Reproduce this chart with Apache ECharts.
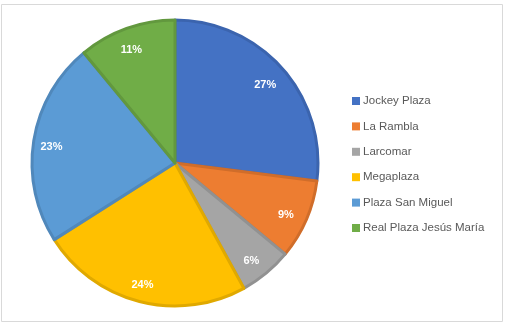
<!DOCTYPE html>
<html>
<head>
<meta charset="utf-8">
<script src="https://cdn.jsdelivr.net/npm/echarts@6/dist/echarts.min.js"></script>
<style>html,body{margin:0;padding:0;background:#fff;}#c{width:507px;height:327px;}</style>
</head>
<body>
<div id="c"></div>
<script>
const categories = ['Jockey Plaza', 'La Rambla', 'Larcomar', 'Megaplaza', 'Plaza San Miguel', 'Real Plaza Jesús María'];
const values = [27, 9, 6, 24, 23, 11];
const colors = ['#4472C4', '#ED7D31', '#A5A5A5', '#FFC000', '#5B9BD5', '#70AD47'];
const borders = ['#3B64AE', '#D06D2A', '#919191', '#E0A900', '#5088BB', '#62983E'];

const chart = echarts.init(document.getElementById('c'));
const mainData = categories.map((n, i) => ({
  name: n, value: values[i],
  itemStyle: { color: colors[i], borderColor: borders[i], borderWidth: 3 }
}));
const labelData = categories.map((n, i) => ({ name: n, value: values[i] }));
chart.setOption({
  animation: false,
  graphic: [{
    type: 'rect', shape: { x: 1.5, y: 4.5, width: 501, height: 317 },
    style: { fill: 'none', stroke: '#D9D9D9', lineWidth: 1 }, silent: true
  }],
  legend: {
    orient: 'vertical', left: 347, top: 90,
    itemWidth: 8, itemHeight: 8, itemGap: 13.4,
    icon: 'rect',
    data: categories.map((n, i) => ({ name: n, itemStyle: { color: colors[i], borderWidth: 0 } })),
    textStyle: { color: '#595959', fontSize: 11.5, fontFamily: 'Liberation Sans', padding: [0, 0, 0, -2] }
  },
  series: [{
    type: 'pie', center: [175, 163], radius: [0, 143],
    startAngle: 90, clockwise: true, silent: true,
    label: { show: false }, labelLine: { show: false },
    data: mainData
  }, {
    type: 'pie', center: [173, 166], radius: [97, 143],
    startAngle: 90, clockwise: true, silent: true,
    itemStyle: { color: 'rgba(0,0,0,0)', borderWidth: 0 },
    label: { show: true, position: 'inside', formatter: '{c}%', color: '#FFFFFF', fontSize: 11, fontWeight: 'bold', fontFamily: 'Liberation Sans' },
    labelLine: { show: false },
    data: labelData
  }]
});
</script>
</body>
</html>
